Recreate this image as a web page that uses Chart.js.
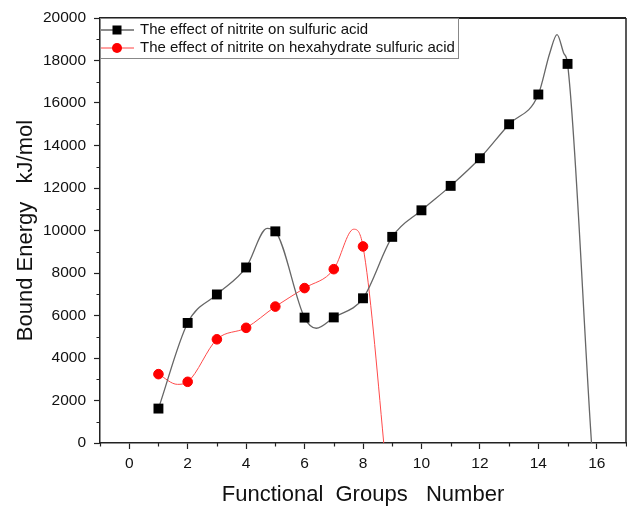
<!DOCTYPE html>
<html>
<head>
<meta charset="utf-8">
<script src="https://cdn.jsdelivr.net/npm/chart.js@4.4.1/dist/chart.umd.min.js"></script>
<style>
  html, body { margin: 0; padding: 0; background: #fff; }
  #grafico { display: block; }
</style>
</head>
<body>
<canvas id="grafico" width="627" height="507"></canvas>
<script>
// valores
const groupsSulfuric = [1, 2, 3, 4, 5, 6, 7, 8, 9, 10, 11, 12, 13, 14, 15];
const boundSulfuric = [1620, 5650, 6990, 8260, 9960, 5900, 5910, 6810, 9700, 10950, 12100, 13400, 15000, 16400, 17840];

const groupsHexa = [1, 2, 3, 4, 5, 6, 7, 8];
const boundHexa = [3240, 2880, 4880, 5420, 6420, 7290, 8180, 9250];

const traceSulfuricX = [4.72, 6.4, 14.39, 14.64, 14.87, 15.82, 15.9];
const traceSulfuricY = [10100, 5400, 18340, 19220, 18340, 0, -1500];
const traceHexaX = [1.65, 7.68, 8.71, 8.8];
const traceHexaY = [2760, 10060, 0, -1500];

const legendLabels = [
  "The effect of nitrite on sulfuric acid",
  "The effect of nitrite on hexahydrate sulfuric acid"
];

const FONT = '"Liberation Sans", Arial, sans-serif';

function pontos(xs, ys) {
  return xs.map((x, i) => ({ x: x, y: ys[i] }));
}

// junta marcadores e pontos da curva, ordenados por x
function curva(xs, ys, tx, ty) {
  return pontos(xs, ys).concat(pontos(tx, ty)).sort((a, b) => a.x - b.x);
}

// moldura, ticks menores e legenda
const extrasPlugin = {
  id: "extras",
  afterDraw(chart) {
    const ctx = chart.ctx;
    const area = chart.chartArea;
    const sx = chart.scales.x;
    const sy = chart.scales.y;
    ctx.save();

    // moldura superior e direita
    ctx.strokeStyle = "#222";
    ctx.lineWidth = 2;
    ctx.beginPath();
    ctx.moveTo(area.left, area.top);
    ctx.lineTo(area.right, area.top);
    ctx.stroke();
    ctx.lineWidth = 1.5;
    ctx.beginPath();
    ctx.moveTo(area.right, area.top);
    ctx.lineTo(area.right, area.bottom);
    ctx.stroke();

    // ticks menores
    ctx.lineWidth = 1.2;
    ctx.beginPath();
    for (let v = -1; v <= 17; v += 2) {
      const px = Math.round(sx.getPixelForValue(v)) + 0.5;
      ctx.moveTo(px, area.bottom);
      ctx.lineTo(px, area.bottom + 3.5);
    }
    for (let v = 1000; v < 20000; v += 2000) {
      const py = Math.round(sy.getPixelForValue(v)) + 0.5;
      ctx.moveTo(area.left, py);
      ctx.lineTo(area.left - 3.5, py);
    }
    ctx.stroke();

    // legenda
    const lx = area.left, ly = area.top;
    ctx.fillStyle = "#fff";
    ctx.fillRect(lx + 1, ly + 1, 357, 39);
    ctx.strokeStyle = "#888";
    ctx.lineWidth = 1;
    ctx.strokeRect(lx + 0.5, ly + 0.5, 358, 40);

    const rows = [ly + 12, ly + 30];
    ctx.font = "15px " + FONT;
    ctx.textBaseline = "middle";

    // linha 1 - quadrado preto
    ctx.strokeStyle = "#666";
    ctx.lineWidth = 1.3;
    ctx.beginPath();
    ctx.moveTo(lx + 1, rows[0]);
    ctx.lineTo(lx + 34, rows[0]);
    ctx.stroke();
    ctx.fillStyle = "#000";
    ctx.fillRect(lx + 17 - 4.5, rows[0] - 4.5, 9, 9);

    // linha 2 - círculo vermelho
    ctx.strokeStyle = "#ff4040";
    ctx.lineWidth = 1;
    ctx.beginPath();
    ctx.moveTo(lx + 1, rows[1]);
    ctx.lineTo(lx + 34, rows[1]);
    ctx.stroke();
    ctx.fillStyle = "#ff0000";
    ctx.beginPath();
    ctx.arc(lx + 17, rows[1], 5, 0, Math.PI * 2);
    ctx.fill();

    ctx.fillStyle = "#111";
    ctx.fillText(legendLabels[0], lx + 40, rows[0]);
    ctx.fillText(legendLabels[1], lx + 40, rows[1]);

    ctx.restore();
  }
};

new Chart(document.getElementById("grafico"), {
  type: "line",
  data: {
    datasets: [
      {
        label: legendLabels[0] + " (curva)",
        data: curva(groupsSulfuric, boundSulfuric, traceSulfuricX, traceSulfuricY),
        borderColor: "#666",
        borderWidth: 1.3,
        pointRadius: 0,
        cubicInterpolationMode: "monotone",
        fill: false,
        order: 2
      },
      {
        label: legendLabels[1] + " (curva)",
        data: curva(groupsHexa, boundHexa, traceHexaX, traceHexaY),
        borderColor: "#ff4a4a",
        borderWidth: 1,
        pointRadius: 0,
        cubicInterpolationMode: "monotone",
        fill: false,
        order: 2
      },
      {
        label: legendLabels[1],
        data: pontos(groupsHexa, boundHexa),
        showLine: false,
        pointStyle: "circle",
        pointRadius: 4.8,
        pointBackgroundColor: "#ff0000",
        pointBorderColor: "#ff0000",
        pointBorderWidth: 1,
        order: 1
      },
      {
        label: legendLabels[0],
        data: pontos(groupsSulfuric, boundSulfuric),
        showLine: false,
        pointStyle: "rect",
        pointRadius: 7,
        pointBackgroundColor: "#000",
        pointBorderColor: "#000",
        pointBorderWidth: 0,
        order: 0
      }
    ]
  },
  options: {
    responsive: false,
    animation: false,
    devicePixelRatio: 1,
    layout: { autoPadding: false, padding: { left: 0, right: 1, top: 18, bottom: 0 } },
    plugins: {
      legend: { display: false },
      tooltip: { enabled: false }
    },
    scales: {
      x: {
        type: "linear",
        min: -1,
        max: 17,
        afterFit: scale => {
          scale.height = 64;
          scale.paddingLeft = 0;
          scale.paddingRight = 0;
        },
        border: { display: true, color: "#222", width: 1.5 },
        grid: {
          drawOnChartArea: false,
          drawTicks: true,
          tickLength: 6,
          tickWidth: 1.2,
          tickColor: c => (c.tick && c.tick.value % 2 === 0) ? "#222" : "rgba(0,0,0,0)"
        },
        ticks: {
          stepSize: 1,
          autoSkip: false,
          maxRotation: 0,
          padding: 5,
          color: "#111",
          font: { family: FONT, size: 15.5 },
          callback: v => (v % 2 === 0 ? String(v) : "")
        },
        title: {
          display: true,
          text: "Functional  Groups   Number",
          color: "#111",
          font: { family: FONT, size: 22, lineHeight: 1 },
          padding: { top: 0, bottom: 1.5 }
        }
      },
      y: {
        type: "linear",
        min: 0,
        max: 20000,
        afterFit: scale => { scale.width = 100; },
        border: { display: true, color: "#222", width: 1.5 },
        grid: {
          drawOnChartArea: false,
          drawTicks: true,
          tickLength: 6,
          tickWidth: 1.2,
          tickColor: c => (c.tick && c.tick.value % 2000 === 0) ? "#222" : "rgba(0,0,0,0)"
        },
        ticks: {
          stepSize: 1000,
          autoSkip: false,
          padding: 8,
          color: "#111",
          font: { family: FONT, size: 15.5 },
          callback: v => (v % 2000 === 0 ? String(v) : "")
        },
        title: {
          display: true,
          text: "Bound Energy   kJ/mol",
          color: "#111",
          font: { family: FONT, size: 22, lineHeight: 1 },
          padding: { top: 14.5, bottom: 0 }
        }
      }
    }
  },
  plugins: [extrasPlugin]
});
</script>
</body>
</html>
